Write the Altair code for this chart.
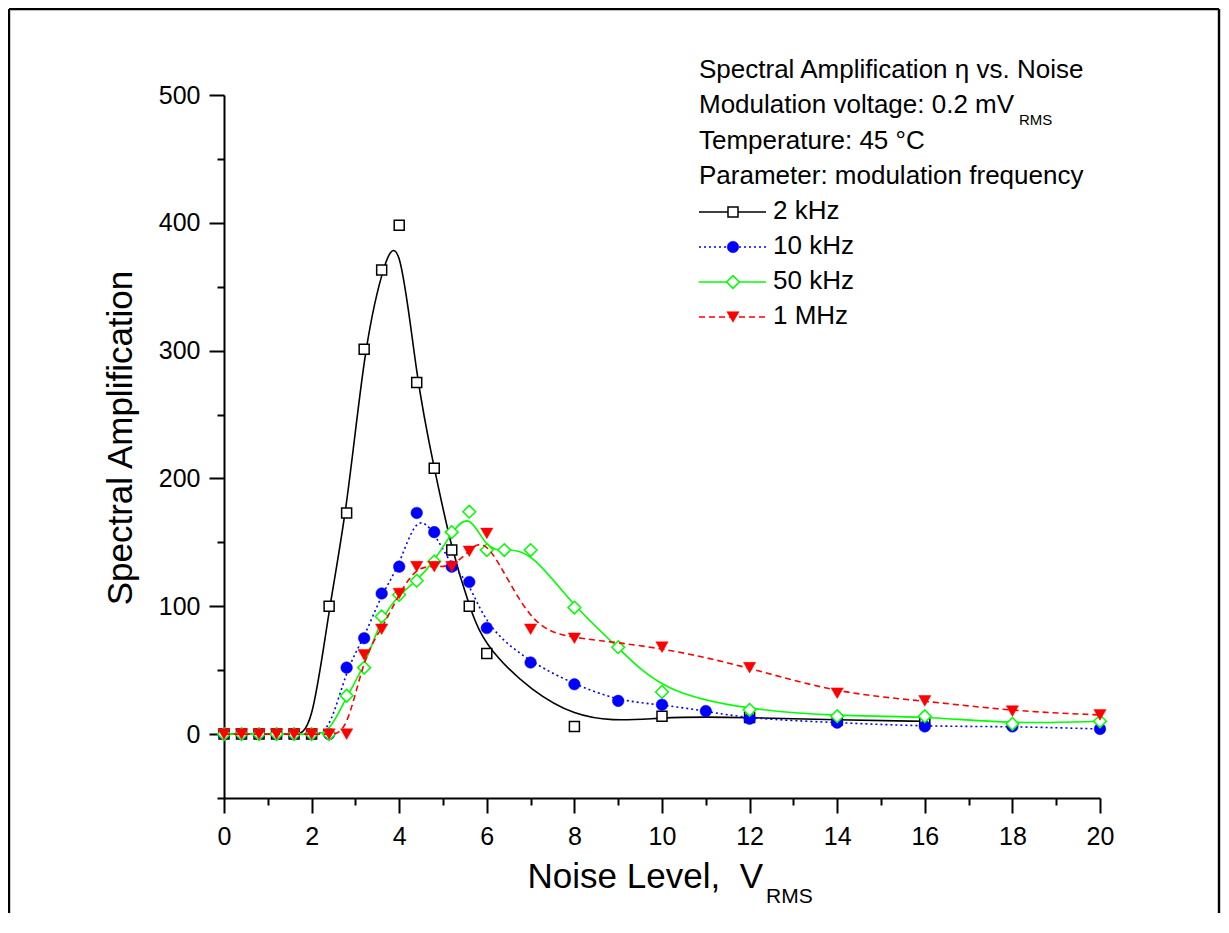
import altair as alt
import pandas as pd

# ---------------- data ----------------
x_2k = [0, 0.4, 0.8, 1.2, 1.6, 2.0, 2.4, 2.8, 3.2, 3.6, 4.0, 4.4, 4.8, 5.2, 5.6, 6.0, 8, 10, 12, 14, 16]
y_2k = [0, 0, 0, 0, 0, 0, 100, 173, 301, 363, 398, 275, 208, 144, 100, 63, 6, 14, 13, 11, 10]

x_10k = [0, 0.4, 0.8, 1.2, 1.6, 2.0, 2.4, 2.8, 3.2, 3.6, 4.0, 4.4, 4.8, 5.2, 5.6, 6.0,
         7, 8, 9, 10, 11, 12, 14, 16, 18, 20]
y_10k = [0, 0, 0, 0, 0, 0, 0, 52, 75, 110, 131, 173, 158, 131, 119, 83,
         56, 39, 26, 23, 18, 12, 9, 6, 6, 4]

x_50k = [0, 0.4, 0.8, 1.2, 1.6, 2.0, 2.4, 2.8, 3.2, 3.6, 4.0, 4.4, 4.8, 5.2, 5.6, 6.0, 6.4,
         7, 8, 9, 10, 12, 14, 16, 18, 20]
y_50k = [0, 0, 0, 0, 0, 0, 0, 30, 52, 92, 109, 120, 135, 158, 174, 144, 144,
         144, 99, 68, 33, 19, 14, 14, 8, 10]

x_1m = [0, 0.4, 0.8, 1.2, 1.6, 2.0, 2.4, 2.8, 3.2, 3.6, 4.0, 4.4, 4.8, 5.2, 5.6, 6.0,
        7, 8, 10, 12, 14, 16, 18, 20]
y_1m = [0, 0, 0, 0, 0, 0, 0, 0, 62, 82, 110, 131, 131, 131, 143, 157,
        82, 75, 68, 52, 32, 26, 18, 15]

series_names = ["2 kHz", "10 kHz", "50 kHz", "1 MHz"]
x_ticks = list(range(0, 21))
y_ticks = list(range(-50, 501, 50))

annotation_lines = [
    "Spectral Amplification \u03b7 vs. Noise",
    "Modulation voltage: 0.2 mV",
    "Temperature: 45 \u00b0C",
    "Parameter: modulation frequency",
]

FONT = "Liberation Sans"

# ---------------- scales / axes ----------------
x_axis = alt.Axis(
    values=x_ticks,
    title=None,
    grid=False,
    domainColor="black",
    domainWidth=2,
    tickColor="black",
    tickWidth=2,
    tickSize={"condition": {"test": "datum.value % 2 === 0", "value": 15}, "value": 7},
    labelExpr="datum.value % 2 === 0 ? datum.label : ''",
    labelFont=FONT,
    labelFontSize=25,
    labelColor="black",
    labelPadding=11,
    labelFlush=False,
    labelOverlap=False,
)
y_axis = alt.Axis(
    values=y_ticks,
    title=None,
    grid=False,
    domainColor="black",
    domainWidth=2,
    tickColor="black",
    tickWidth=2,
    tickSize={"condition": {"test": "datum.value % 100 === 0", "value": 15}, "value": 7},
    labelExpr="datum.value % 100 === 0 ? datum.label : ''",
    labelFont=FONT,
    labelFontSize=25,
    labelColor="black",
    labelPadding=9,
    labelFlush=False,
    labelOverlap=False,
)

X = alt.X("x:Q", scale=alt.Scale(domain=[0, 20], nice=False, zero=False), axis=x_axis)
Y = alt.Y("y:Q", scale=alt.Scale(domain=[-50, 500], nice=False, zero=False), axis=y_axis)

styles = [
    # color, dash, shape, size, filled
    ("black", [], "square", 100, False),
    ("#0000ff", [2, 3], "circle", 135, True),
    ("#00ff00", [], "diamond", 160, False),
    ("#ff0000", [6, 4], "triangle-down", 150, True),
]
data_sets = [(x_2k, y_2k), (x_10k, y_10k), (x_50k, y_50k), (x_1m, y_1m)]


def point_kw(color, shape, size, filled):
    if filled:
        return dict(shape=shape, size=size, filled=True,
                    fill=color, stroke=color, strokeWidth=0.5, opacity=1)
    return dict(shape=shape, size=size, filled=True,
                fill="white", stroke=color, strokeWidth=1.5, opacity=1)


layers = []
for (xs, ys), (color, dash, shape, size, filled) in zip(data_sets, styles):
    df = pd.DataFrame({"x": xs, "y": ys})
    line_kw = dict(interpolate="basis", color=color, strokeWidth=1.6)
    if dash:
        line_kw["strokeDash"] = dash
    layers.append(alt.Chart(df).mark_line(**line_kw).encode(x=X, y=Y))
    layers.append(alt.Chart(df).mark_point(**point_kw(color, shape, size, filled)).encode(x=X, y=Y))

one = pd.DataFrame({"a": [0]})

# plot origin on page: (224, 95)
OX, OY = 224, 95


def text_at(txt, px, py, size, align="left"):
    return alt.Chart(one).mark_text(
        text=txt, font=FONT, fontSize=size, align=align, baseline="alphabetic", color="black"
    ).encode(x=alt.value(px - OX), y=alt.value(py - OY))


# annotation block
base_lines = [78, 113, 149, 184]
for txt, b in zip(annotation_lines, base_lines):
    layers.append(text_at(txt, 699, b, 26))
layers.append(text_at("RMS", 1019, 125, 15))

# legend
leg_base = [219, 254, 289, 324]
for name, (color, dash, shape, size, filled), b in zip(series_names, styles, leg_base):
    ly = b - 7
    rule_kw = dict(color=color, strokeWidth=1.6)
    if dash:
        rule_kw["strokeDash"] = dash
    layers.append(alt.Chart(one).mark_rule(**rule_kw).encode(
        x=alt.value(699 - OX), x2=alt.value(766 - OX), y=alt.value(ly - OY)))
    layers.append(alt.Chart(one).mark_point(**point_kw(color, shape, size, filled)).encode(
        x=alt.value(733 - OX), y=alt.value(ly - OY)))
    layers.append(text_at(name, 773, b, 26))

# axis titles
layers.append(alt.Chart(one).mark_text(
    text="Spectral Amplification", font=FONT, fontSize=35, angle=270, align="center",
    baseline="alphabetic", color="black"
).encode(x=alt.value(132 - OX), y=alt.value(438 - OY)))
layers.append(text_at("Noise Level,\u00a0 V", 763, 888, 35, align="right"))
layers.append(text_at("RMS", 766, 903, 21))

# figure frame (left, top, right)
FL, FT, FR, FB = 9, 9, 1219, 913
layers.append(alt.Chart(one).mark_rule(color="black", strokeWidth=2.4).encode(
    x=alt.value(FL - OX), y=alt.value(FT - OY), y2=alt.value(FB - OY)))
layers.append(alt.Chart(one).mark_rule(color="black", strokeWidth=2.4).encode(
    x=alt.value(FL - OX), x2=alt.value(FR - OX), y=alt.value(FT - OY)))
layers.append(alt.Chart(one).mark_rule(color="black", strokeWidth=2.4).encode(
    x=alt.value(FR - OX), y=alt.value(FT - OY), y2=alt.value(FB - OY)))

chart = alt.layer(*layers).properties(
    width=876,
    height=703,
    autosize=alt.AutoSizeParams(type="none"),
    padding={"left": 216, "top": 87, "right": 121, "bottom": 115},
    background="white",
).configure_view(stroke=None)

chart.save("out.html", embed_options={"renderer": "svg", "actions": False})
